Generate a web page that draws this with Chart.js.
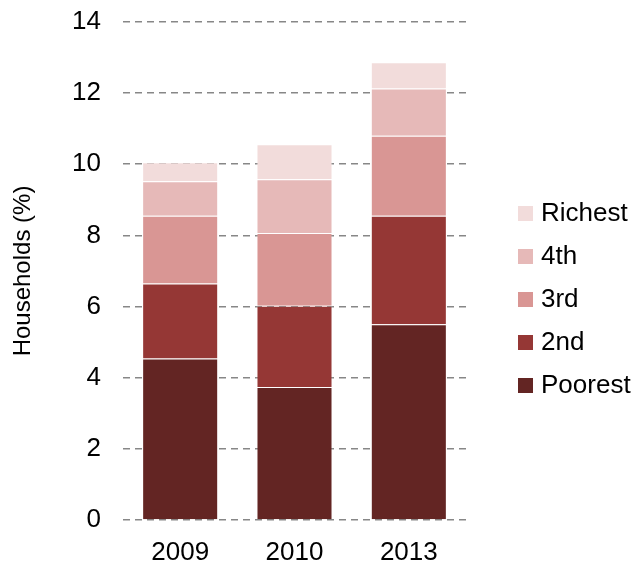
<!DOCTYPE html>
<html>
<head>
<meta charset="utf-8">
<script src="https://cdn.jsdelivr.net/npm/chart.js@4.4.1/dist/chart.umd.min.js"></script>
<style>
  html, body { margin: 0; padding: 0; background: #fff; }
  #wrap { width: 634px; height: 565px; }
</style>
</head>
<body>
<div id="wrap"><canvas id="households"></canvas></div>
<script>
// Households by wealth quintile, stacked per survey year
const years = ['2009', '2010', '2013'];
const poorest = [4.54, 3.74, 5.50];
const second = [2.11, 2.28, 3.05];
const third = [1.90, 2.05, 2.25];
const fourth = [0.97, 1.51, 1.33];
const richest = [0.54, 0.98, 0.74];
const yTicks = [0, 2, 4, 6, 8, 10, 12, 14];

const FONT = '"Liberation Sans", Arial, sans-serif';

const series = [
  { label: 'Poorest', data: poorest, color: '#632523' },
  { label: '2nd', data: second, color: '#953735' },
  { label: '3rd', data: third, color: '#d99694' },
  { label: '4th', data: fourth, color: '#e6b9b8' },
  { label: 'Richest', data: richest, color: '#f2dcdb' }
];

// Legend on the right, top entry = last series
const sideLegend = {
  id: 'sideLegend',
  afterDraw(chart) {
    const ctx = chart.ctx;
    const x = chart.chartArea.right + 52;
    let y = 213;
    ctx.save();
    ctx.font = '26px ' + FONT;
    ctx.textBaseline = 'middle';
    ctx.textAlign = 'left';
    chart.data.datasets.slice().reverse().forEach(ds => {
      ctx.fillStyle = ds.backgroundColor;
      ctx.fillRect(x, y - 7, 15, 15);
      ctx.fillStyle = '#000';
      ctx.fillText(ds.label, x + 23, y + 1);
      y += 43;
    });
    ctx.restore();
  }
};

new Chart(document.getElementById('households'), {
  type: 'bar',
  data: {
    labels: years,
    datasets: series.map(s => ({
      label: s.label,
      data: s.data,
      backgroundColor: s.color,
      borderColor: 'rgba(255,255,255,0.22)',
      borderWidth: 1,
      categoryPercentage: 1,
      barPercentage: 0.665
    }))
  },
  options: {
    responsive: true,
    maintainAspectRatio: false,
    animation: false,
    layout: { padding: { top: 22, right: 168, bottom: 0, left: 6 } },
    plugins: {
      legend: { display: false },
      tooltip: { enabled: false }
    },
    scales: {
      x: {
        stacked: true,
        grid: { display: false, drawTicks: false },
        border: { display: false },
        ticks: { color: '#000', padding: 17, font: { family: FONT, size: 26 } },
        afterFit: axis => { axis.height = 45; }
      },
      y: {
        stacked: true,
        min: 0,
        max: 14,
        afterBuildTicks: axis => { axis.ticks = yTicks.map(v => ({ value: v })); },
        afterFit: axis => { axis.width = 117; },
        grid: { color: '#878787', lineWidth: 1.6, drawTicks: true, tickLength: 19, tickColor: 'rgba(0,0,0,0)' },
        border: { display: false, dash: [7, 5] },
        ticks: { color: '#000', padding: 3, font: { family: FONT, size: 26 } },
        title: {
          display: true,
          text: 'Households (%)',
          color: '#000',
          font: { family: FONT, size: 24 },
          padding: { top: 3, bottom: 10 }
        }
      }
    }
  },
  plugins: [sideLegend]
});
</script>
</body>
</html>
